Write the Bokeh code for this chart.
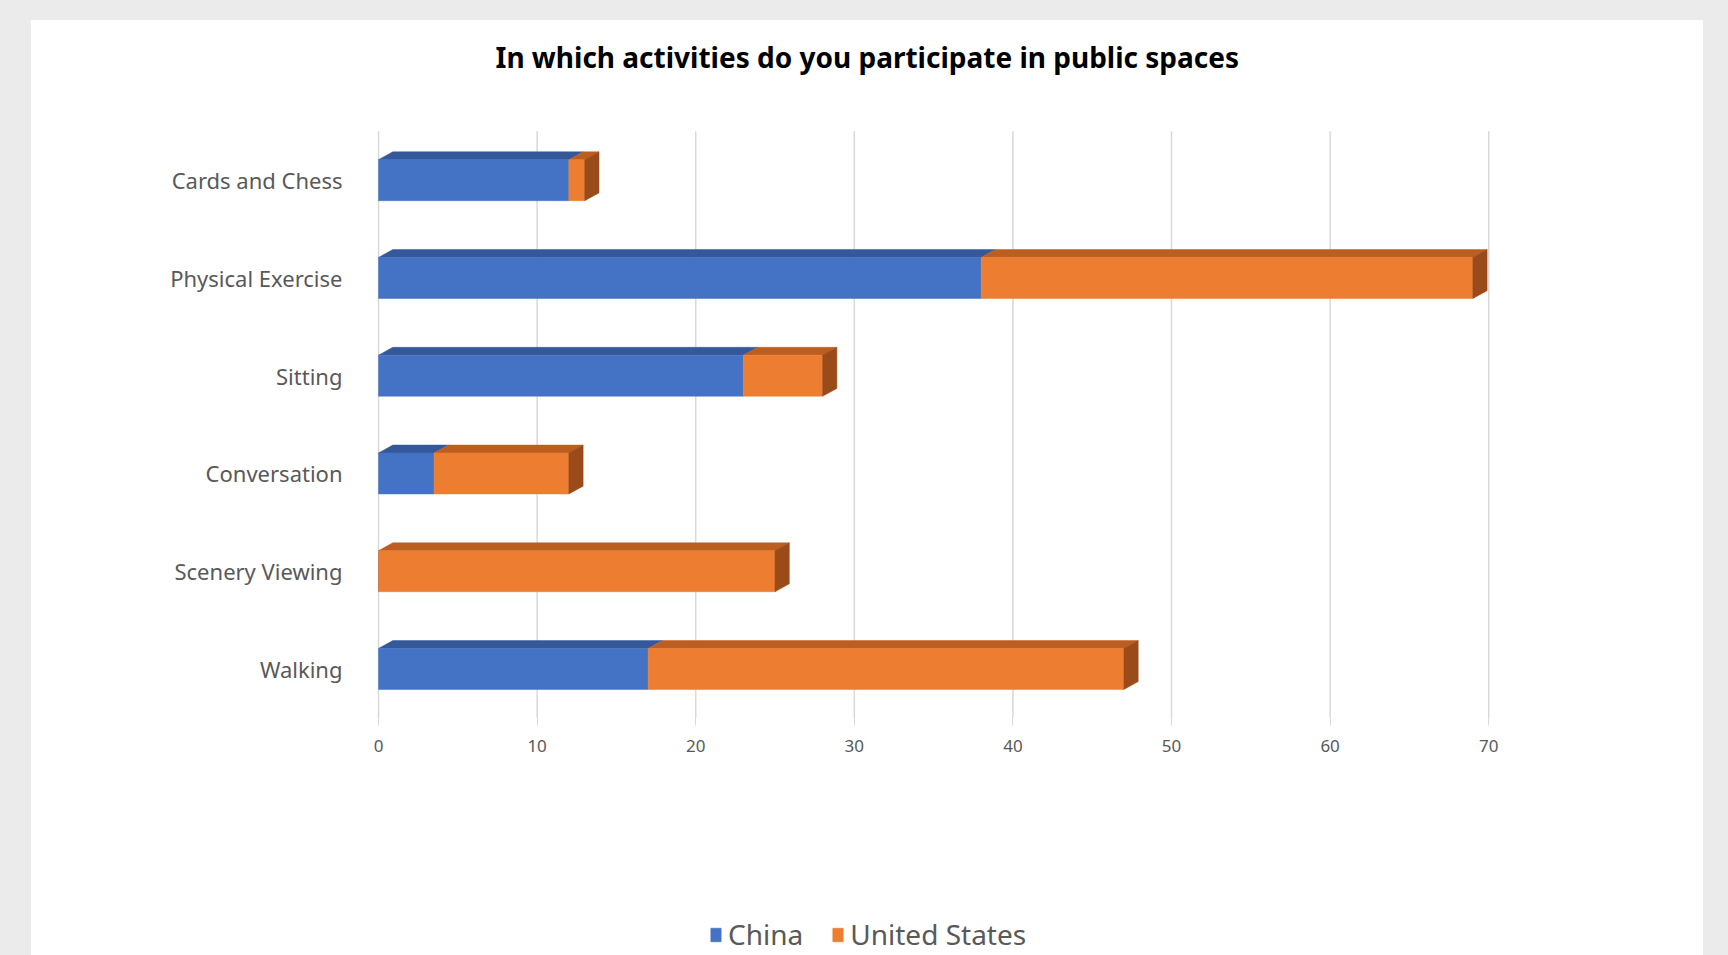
from bokeh.plotting import figure
from bokeh.models import (ColumnDataSource, FixedTicker, Legend, LegendItem,
                          GlobalInlineStyleSheet)
from bokeh.embed import file_html
from bokeh.resources import INLINE

# ---------------- data ----------------
categories = ["Cards and Chess", "Physical Exercise", "Sitting",
              "Conversation", "Scenery Viewing", "Walking"]
china = [12, 38, 23, 3.5, 0, 17]
united_states = [1, 31, 5, 8.5, 25, 30]
series_names = ["China", "United States"]
x_ticks = [0, 10, 20, 30, 40, 50, 60, 70]

# ---------------- style ----------------
FRONT = ["#4472C4", "#ED7D31"]
TOP = ["#34589A", "#BD5E21"]
SIDE = ["#2F4F8A", "#9B4A1A"]
H = 0.42     # front face height (category units)
DX = 0.9     # depth offset in value units
DY = 0.08    # depth offset in category units

n = len(categories)
ypos = [n - 1 - i for i in range(n)]
floor_y = -0.5
wall_top = n - 0.5

p = figure(width=1672, height=935, x_range=(-1.2, 71.5),
           y_range=(-2.932, 5.9175),
           output_backend="svg", toolbar_location=None,
           min_border_left=328, min_border_right=191,
           min_border_top=66, min_border_bottom=0,
           title="In which activities do you participate in public spaces")
p.stylesheets = [GlobalInlineStyleSheet(
    css="body{margin:0;padding:20px 0 0 31px;background:#ebebeb;}")]
p.styles = {"background-color": "white"}
p.background_fill_color = "white"
p.border_fill_color = "white"
p.outline_line_color = None
p.grid.visible = False

p.title.align = "left"
p.title.offset = 136
p.title.text_font = "Noto Sans"
p.title.text_font_size = "28px"
p.title.text_font_style = "bold"
p.title.text_color = "#000000"
p.title.standoff = 30

# vertical value grid lines (back wall)
p.segment(x0=x_ticks, x1=x_ticks, y0=[floor_y] * len(x_ticks),
          y1=[wall_top] * len(x_ticks), line_color="#d9d9d9", line_width=1.5)

series = [china, united_states]
starts = [0] * n
renderers = []
for s, vals in enumerate(series):
    left = list(starts)
    right = [a + b for a, b in zip(starts, vals)]
    src = ColumnDataSource(dict(y=ypos, left=left, right=right))
    txs, tys = [], []
    for yy, l, r in zip(ypos, left, right):
        if r > l:
            txs.append([l, r, r + DX, l + DX])
            tys.append([yy + H / 2, yy + H / 2, yy + H / 2 + DY, yy + H / 2 + DY])
    p.patches(txs, tys, fill_color=TOP[s], line_color=TOP[s], line_width=0.5)
    r_front = p.hbar(y="y", left="left", right="right", height=H, source=src,
                     fill_color=FRONT[s], line_color=FRONT[s], line_width=0.5)
    renderers.append(r_front)
    starts = right

sxs, sys_ = [], []
for yy, r in zip(ypos, starts):
    sxs.append([r, r + DX, r + DX, r])
    sys_.append([yy - H / 2, yy - H / 2 + DY, yy + H / 2 + DY, yy + H / 2])
p.patches(sxs, sys_, fill_color=SIDE[1], line_color=SIDE[1], line_width=0.5)

# axes
p.yaxis.ticker = FixedTicker(ticks=ypos)
p.yaxis.major_label_overrides = {yy: c for yy, c in zip(ypos, categories)}
p.yaxis.axis_line_color = None
p.yaxis.major_tick_line_color = None
p.yaxis.minor_tick_line_color = None
p.yaxis.major_label_standoff = 11
p.yaxis.major_label_text_font = "Noto Sans"
p.yaxis.major_label_text_font_size = "22px"
p.yaxis.major_label_text_color = "#595959"

p.xaxis.fixed_location = floor_y
p.xaxis.ticker = FixedTicker(ticks=x_ticks)
p.xaxis.axis_line_color = None
p.xaxis.major_tick_line_color = "#d9d9d9"
p.xaxis.major_tick_out = 8
p.xaxis.major_tick_in = 0
p.xaxis.minor_tick_line_color = None
p.xaxis.major_label_standoff = 14
p.xaxis.major_label_text_font = "Noto Sans"
p.xaxis.major_label_text_font_size = "17px"
p.xaxis.major_label_text_color = "#595959"

legend = Legend(items=[LegendItem(label=nm, renderers=[r])
                       for nm, r in zip(series_names, renderers)],
                orientation="horizontal", location=(350, 2),
                label_text_font="Noto Sans", label_text_font_size="28px",
                label_text_color="#595959", glyph_width=13, glyph_height=17,
                spacing=28, label_standoff=6, border_line_color=None,
                background_fill_alpha=0, padding=4, margin=0)
p.add_layout(legend, "center")

open("out.html", "w").write(file_html(p, INLINE))
